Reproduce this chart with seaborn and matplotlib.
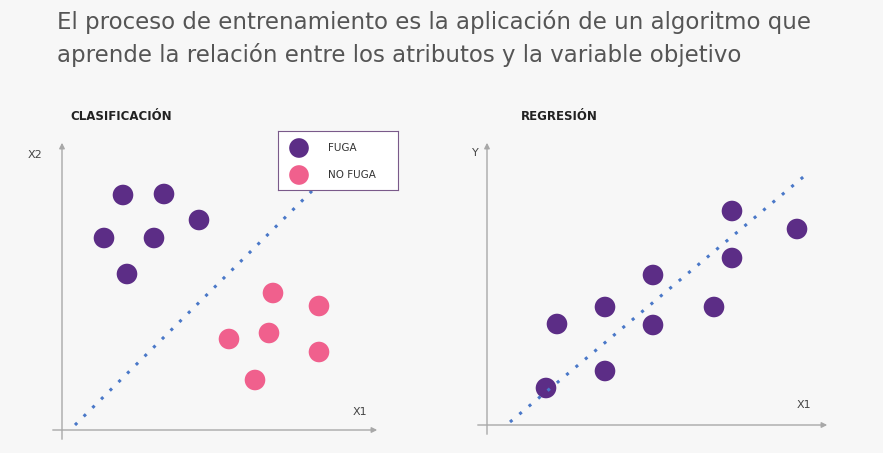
import numpy as np
import pandas as pd
import matplotlib
matplotlib.use("Agg")
import matplotlib.pyplot as plt
import seaborn as sns

PURPLE = "#5c2d86"
PINK   = "#f0608d"
BLUE   = "#4a78c8"
AXCOL  = "#a8a8a8"

# classification panel (units: distance from axes origin)
fuga_x    = [61, 102, 137, 42, 92, 65]
fuga_y    = [235, 236, 210, 192, 192, 156]
nofuga_x  = [211, 257, 167, 207, 257, 193]
nofuga_y  = [137, 124, 91, 97, 78, 50]
clf_line_x = [13, 256]
clf_line_y = [5, 245]

# regression panel
reg_x = [59, 70, 118, 118, 166, 166, 227, 245, 245, 310]
reg_y = [37, 101, 118, 54, 150, 100, 118, 214, 167, 196]
reg_line_x = [23, 321]
reg_line_y = [3, 252]

W, H = 883, 453
sns.set_style("white")
fig = plt.figure(figsize=(W / 100, H / 100), dpi=100)
fig.patch.set_facecolor("#f7f7f7")


def panel(left, bottom, width, height):
    ax = fig.add_axes([left / W, (H - bottom) / H, width / W, height / H])
    ax.set_xlim(0, width)
    ax.set_ylim(0, height)
    ax.axis("off")
    arrow = dict(arrowstyle="-|>", color=AXCOL, lw=1, mutation_scale=8)
    ax.annotate("", xy=(width, 0), xytext=(-12, 0), arrowprops=arrow, annotation_clip=False)
    ax.annotate("", xy=(0, height), xytext=(0, -12), arrowprops=arrow, annotation_clip=False)
    return ax


ax1 = panel(62, 430, 318, 290)
ax1.plot(clf_line_x, clf_line_y, ls=(0, (1, 3)), lw=2.2, color=BLUE)
sns.scatterplot(x=fuga_x, y=fuga_y, ax=ax1, color=PURPLE, s=220, edgecolor="none", clip_on=False)
sns.scatterplot(x=nofuga_x, y=nofuga_y, ax=ax1, color=PINK, s=220, edgecolor="none", clip_on=False)

ax2 = panel(487, 425, 343, 285)
ax2.plot(reg_line_x, reg_line_y, ls=(0, (1, 3)), lw=2.2, color=BLUE)
sns.scatterplot(x=reg_x, y=reg_y, ax=ax2, color=PURPLE, s=220, edgecolor="none", clip_on=False)

# legend box
lg = fig.add_axes([278 / W, (H - 190) / H, 120 / W, 59 / H])
lg.set_xlim(0, 120)
lg.set_ylim(59, 0)
lg.set_xticks([])
lg.set_yticks([])
lg.set_facecolor("white")
for s in lg.spines.values():
    s.set_color("#7a5a8a")
    s.set_linewidth(0.8)
sns.scatterplot(x=[21, 21], y=[17, 44], hue=["FUGA", "NO FUGA"], palette=[PURPLE, PINK],
                s=200, edgecolor="none", ax=lg, legend=False)
lg.text(50, 17, "FUGA", va="center", fontsize=7.5, color="#333")
lg.text(50, 44, "NO FUGA", va="center", fontsize=7.5, color="#333")

fig.text(57 / W, 1 - 22 / H, "El proceso de entrenamiento es la aplicación de un algoritmo que",
         fontsize=16.5, color="#555555", va="center")
fig.text(57 / W, 1 - 55 / H, "aprende la relación entre los atributos y la variable objetivo",
         fontsize=16.5, color="#555555", va="center")
fig.text(70 / W, 1 - 117 / H, "CLASIFICACIÓN", fontsize=8.5, fontweight="bold", color="#222", va="center")
fig.text(521 / W, 1 - 117 / H, "REGRESIÓN", fontsize=8.5, fontweight="bold", color="#222", va="center")
fig.text(28 / W, 1 - 155 / H, "X2", fontsize=8, color="#444", va="center")
fig.text(353 / W, 1 - 412 / H, "X1", fontsize=8, color="#444", va="center")
fig.text(472 / W, 1 - 153 / H, "Y", fontsize=8, color="#444", va="center")
fig.text(797 / W, 1 - 405 / H, "X1", fontsize=8, color="#444", va="center")

fig.savefig("out.png", dpi=100, facecolor=fig.get_facecolor())
